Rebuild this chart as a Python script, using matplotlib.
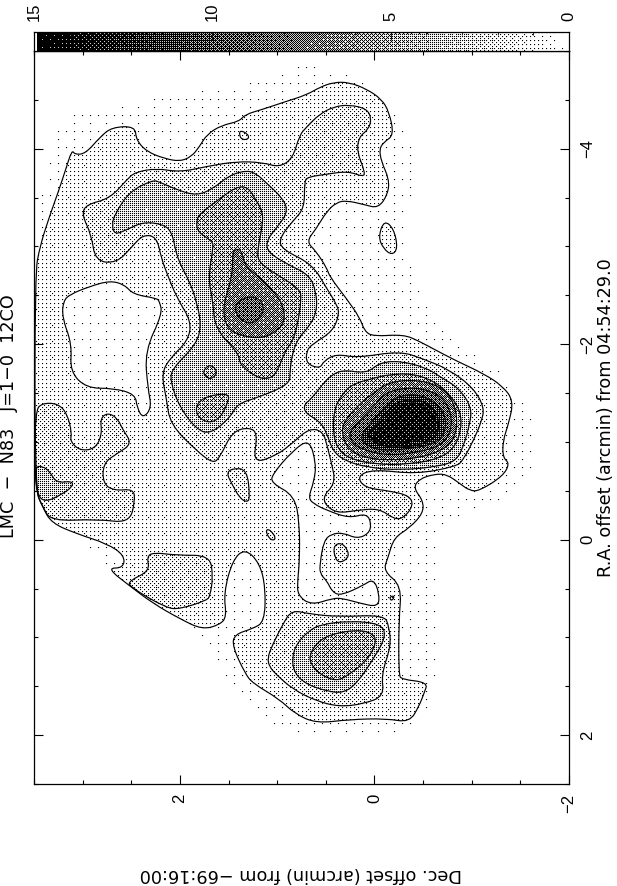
import numpy as np
import matplotlib
matplotlib.use("Agg")
import matplotlib.pyplot as plt
from matplotlib.path import Path
from matplotlib.patches import PathPatch

plt.rcParams["font.family"] = ["Liberation Sans", "DejaVu Sans"]

map_extent = [(3.49,-2.72),(3.34,-4.33),(2.82,-4.38),(1.95,-4.58),(1.08,-4.68),(.87,-4.87),(.15,-4.79),(-.26,-4.33),
              (-.41,-4.02),(-.41,-3.71),(-.31,-3.20),(-.41,-2.54),(-.77,-2.03),(-1.28,-1.78),(-1.69,-1.21),(-1.69,-.86),
              (-1.49,-.50),(-1.18,-.35),(-.62,-.14),(-.67,.52),(-.67,1.34),(-.62,1.54),(-.46,2.00),(.67,2.05),(1.03,1.95),
              (1.33,1.64),(1.59,1.34),(1.75,.98),(2.00,.81),(2.52,.47),(2.75,.29),(3.49,-.52)]

l1_main = [(3.49,-2.72),(3.44,-3.00),(3.34,-3.31),(3.25,-3.56),(3.18,-3.77),(3.11,-3.99),(3.08,-3.94),(2.97,-3.95),
           (2.82,-4.12),(2.70,-4.22),(2.46,-4.23),(2.45,-4.09),(2.34,-3.97),(2.16,-3.90),(2.00,-3.87),(1.88,-3.92),
           (1.80,-4.02),(1.72,-4.15),(1.57,-4.24),(1.39,-4.28),(1.33,-4.35),(1.16,-4.40),(.92,-4.48),(.70,-4.55),
           (.56,-4.63),(.42,-4.68),(.26,-4.68),(.08,-4.61),(-.07,-4.51),(-.15,-4.38),(-.20,-4.14),(-.10,-4.07),
           (-.05,-4.00),(-.07,-3.87),(-.15,-3.69),(-.14,-3.54),(-.04,-3.39),(.11,-3.43),(.29,-3.47),(.39,-3.45),
           (.49,-3.36),(.60,-3.18),(.70,-3.05),(.60,-2.95),(.49,-2.78),(.46,-2.69),(.29,-2.47),(.15,-2.27),(.10,-2.13),
           (.01,-2.08),(-.30,-2.10),(-.46,-2.03),(-.61,-1.95),(-.84,-1.83),(-1.12,-1.70),(-1.32,-1.57),(-1.43,-1.42),
           (-1.38,-1.19),(-1.32,-1.01),(-1.32,-.84),(-1.39,-.78),(-1.32,-.65),(-1.08,-.50),(-.98,-.50),(-.87,-.58),
           (-.74,-.67),(-.61,-.67),(-.46,-.62),(-.40,-.53),(-.50,-.40),(-.50,-.27),(-.36,-.12),(-.20,-.02),(-.14,.18),
           (-.09,.32),(-.28,.47),(-.25,.83),(-.25,1.38),(-.28,1.43),(-.55,1.46),(-.51,1.57),(-.46,1.70),(-.36,1.87),
           (-.12,1.83),(.26,1.84),(.60,1.88),(.82,1.78),(.98,1.63),(1.25,1.47),(1.33,1.37),(1.46,1.09),(1.44,.97),
           (1.25,.91),(1.13,.84),(1.12,.49),(1.18,.24),(1.33,.09),(1.46,.21),(1.55,.55),(1.52,.79),(1.59,.87),(1.77,.92),
           (2.00,.81),(2.28,.65),(2.52,.47),(2.75,.29),(2.58,.29),(2.57,.16),(2.75,.04),(3.06,-.06),(3.32,-.17),
           (3.41,-.33),(3.49,-.52)]
l1_hole_a = [(3.13,-2.51),(2.93,-2.59),(2.72,-2.65),(2.57,-2.61),(2.48,-2.51),(2.24,-2.47),(2.21,-2.44),(2.18,-2.31),
             (2.36,-1.93),(2.33,-1.55),(2.29,-1.35),(2.38,-1.24),(2.44,-1.35),(2.46,-1.49),(2.69,-1.55),(2.96,-1.55),
             (3.13,-1.72),(3.11,-2.00),(3.21,-2.27),(3.20,-2.44)]
l1_hole_b = [(.67,-1.03),(.60,-.78),(.62,-.60),(.68,-.43),(.63,-.37),(.49,-.30),(.26,-.22),(.08,-.27),(.03,-.16),
             (.06,-.06),(.18,-.01),(.32,-.07),(.44,-.06),(.52,.01),(.56,.24),(.56,.35),(.49,.42),(.43,.54),(.34,.57),
             (.12,.47),(.01,.40),(-.05,.55),(-.04,.69),(.15,.65),(.33,.60),(.43,.60),(.65,.67),(.79,.57),(.79,.42),
             (.77,.21),(.77,-.16),(.82,-.45),(1.06,-.58),(1.05,-.67),(.84,-.91)]
l1_spot_a = [(1.38,-4.19),(1.30,-4.15),(1.29,-4.10),(1.36,-4.09),(1.39,-4.14)]
l1_spot_b = [(-.10,-3.27),(-.20,-3.18),(-.24,-2.98),(-.18,-2.91),(-.09,-2.98),(-.04,-3.10)]

l2_main = [(3.01,-3.33),(2.96,-3.43),(2.72,-3.49),(2.54,-3.69),(2.46,-3.76),(2.24,-3.80),(2.00,-3.76),(1.72,-3.82),
           (1.42,-3.87),(1.15,-3.86),(.98,-3.81),(.84,-3.90),(.77,-4.14),(.70,-4.22),(.57,-4.35),(.42,-4.43),(.26,-4.45),
           (.08,-4.41),(.03,-4.31),(.06,-4.20),(.16,-4.12),(.18,-3.97),(.10,-3.77),(.11,-3.71),(.27,-3.77),(.49,-3.74),
           (.69,-3.71),(.72,-3.66),(.72,-3.39),(.84,-3.26),(.98,-3.08),(.95,-2.97),(.64,-2.82),(.49,-2.57),(.39,-2.41),
           (.36,-2.31),(.43,-2.13),(.64,-2.00),(.70,-1.93),(.70,-1.80),(.56,-1.75),(.52,-1.83),(.39,-1.90),(.18,-1.86),
           (-.26,-1.93),(-.50,-1.85),(-.77,-1.74),(-1.02,-1.55),(-1.13,-1.35),(-1.10,-1.21),(-1.03,-1.04),(-.91,-.81),
           (-.84,-.75),(-.43,-.67),(.01,-.72),(.18,-.65),(.10,-.53),(-.15,-.50),(-.36,-.45),(-.40,-.35),(-.30,-.22),
           (-.20,-.21),(-.05,-.32),(.18,-.30),(.39,-.27),(.52,-.37),(.51,-.47),(.44,-.53),(.41,-.63),(.43,-.73),(.48,-.94),
           (.53,-1.11),(.67,-1.14),(.84,-.99),(1.01,-.86),(1.25,-.78),(1.20,-1.08),(1.28,-1.15),(1.46,-1.11),(1.59,-.84),
           (1.66,-.78),(1.83,-.91),(2.10,-1.18),(2.14,-1.45),(2.19,-1.70),(2.10,-1.86),(1.92,-2.03),(1.88,-2.23),
           (2.03,-2.47),(2.14,-2.74),(2.19,-2.88),(2.24,-3.10),(2.38,-3.12),(2.49,-3.00),(2.65,-2.83),(2.87,-2.85),(2.91,-3.12)]
l2_west = [(3.49,-1.32),(3.41,-1.40),(3.25,-1.39),(3.16,-1.29),(3.11,-1.09),(3.13,-1.01),(3.03,-.91),(2.87,-.93),
           (2.80,-1.08),(2.82,-1.24),(2.74,-1.30),(2.64,-1.24),(2.59,-1.13),(2.49,-.98),(2.65,-.88),(2.79,-.78),(2.79,-.57),
           (2.67,-.50),(2.48,-.52),(2.46,-.40),(2.52,-.17),(2.85,-.21),(3.32,-.19),(3.41,-.33),(3.49,-.52)]
l2_southwest = [(2.34,.18),(2.28,.13),(2.03,.16),(1.69,.16),(1.66,.39),(1.69,.57),(1.72,.62),(2.00,.71),(2.14,.70),
                (2.52,.48),(2.52,.42),(2.31,.32)]
l2_spot_a = [(1.52,-.68),(1.46,-.73),(1.31,-.72),(1.28,-.43),(1.31,-.38),(1.39,-.43),(1.47,-.58)]
l2_spot_b = [(1.11,-.11),(1.06,-.09),(1.01,-.01),(1.06,.01),(1.11,-.06)]
l2_spot_c = [(.42,.06),(.34,.03),(.27,.11),(.27,.19),(.36,.24),(.41,.18)]
l2_spot_d = [(-.15,.59),(-.21,.57),(-.18,.63)]
l2_south = [(1.10,1.21),(1.05,1.08),(.94,.86),(.85,.72),(.67,.76),(.36,.79),(-.10,.77),(-.15,.89),(-.17,1.09),(-.07,1.38),
            (-.10,1.60),(.11,1.68),(.36,1.71),(.60,1.65),(.84,1.53),(1.01,1.38),(1.08,1.30)]

l3_north = [(2.70,-3.22),(2.67,-3.33),(2.52,-3.56),(2.28,-3.68),(2.21,-3.66),(2.03,-3.58),(1.83,-3.52),(1.66,-3.59),
            (1.49,-3.73),(1.31,-3.78),(1.21,-3.74),(1.11,-3.65),(.94,-3.49),(.89,-3.36),(.98,-3.22),(1.10,-3.08),(1.11,-2.95),
            (.90,-2.82),(.67,-2.71),(.60,-2.54),(.59,-2.34),(.67,-2.18),(.77,-2.08),(.84,-1.93),(.87,-1.72),(.87,-1.59),
            (1.21,-1.45),(1.41,-1.39),(1.49,-1.24),(1.69,-1.08),(1.83,-1.13),(2.00,-1.35),(2.10,-1.62),(2.08,-1.75),
            (1.83,-2.00),(1.78,-2.20),(1.83,-2.44),(1.90,-2.64),(2.03,-2.88),(2.08,-3.15),(2.18,-3.23),(2.38,-3.25),
            (2.55,-3.17),(2.67,-3.12)]
l3_west = [(3.49,-.75),(3.41,-.75),(3.34,-.70),(3.27,-.58),(3.11,-.60),(3.10,-.55),(3.20,-.47),(3.39,-.38),(3.47,-.47)]
l3_core = [(.72,-1.39),(.67,-1.42),(.53,-1.59),(.46,-1.67),(.33,-1.74),(.08,-1.70),(-.05,-1.81),(-.26,-1.83),(-.53,-1.76),
           (-.67,-1.67),(-.87,-1.55),(-1.00,-1.35),(-.98,-1.18),(-.91,-.94),(-.84,-.81),(-.67,-.75),(-.26,-.71),(.08,-.74),
           (.31,-.81),(.43,-.91),(.49,-1.09),(.56,-1.21),(.72,-1.30)]
l3_south = [(.85,1.22),(.80,1.06),(.67,.93),(.56,.87),(.26,.83),(-.07,.86),(-.12,.99),(.01,1.22),(.18,1.47),(.32,1.57),
            (.49,1.55),(.70,1.48),(.82,1.37)]

l4_north = [(1.83,-3.26),(1.80,-3.33),(1.59,-3.49),(1.42,-3.61),(1.30,-3.61),(1.21,-3.46),(1.15,-3.36),(1.15,-3.22),
            (1.20,-2.98),(1.20,-2.85),(1.05,-2.74),(.77,-2.57),(.75,-2.47),(.79,-2.20),(.84,-2.03),(.92,-1.93),(1.01,-1.69),
            (1.11,-1.64),(1.23,-1.67),(1.39,-1.80),(1.39,-1.90),(1.64,-2.16),(1.66,-2.44),(1.71,-2.67),(1.66,-2.98),
            (1.66,-3.05),(1.82,-3.15)]
l4_spot_a = [(1.77,-1.72),(1.69,-1.80),(1.61,-1.72),(1.66,-1.65),(1.72,-1.65)]
l4_spot_b = [(1.83,-1.39),(1.72,-1.47),(1.49,-1.50),(1.51,-1.39),(1.59,-1.24),(1.71,-1.19),(1.83,-1.27)]
l4_south = [(.67,1.19),(.60,1.06),(.46,.97),(.18,.92),(.01,.96),(-.02,1.06),(.08,1.24),(.26,1.38),(.39,1.45),(.56,1.38),(.65,1.28)]
l4_core = [(.41,-1.35),(.33,-1.49),(.23,-1.59),(.02,-1.65),(-.15,-1.69),(-.39,-1.70),(-.62,-1.62),(-.79,-1.47),(-.89,-1.30),
           (-.89,-1.11),(-.82,-.94),(-.67,-.83),(-.36,-.77),(0,-.77),(.26,-.83),(.38,-.93),(.43,-1.11)]

l5_north = [(1.46,-2.90),(1.44,-2.97),(1.37,-2.97),(1.33,-2.80),(1.21,-2.71),(1.06,-2.57),(.94,-2.41),(.92,-2.23),(1.01,-2.13),
            (1.15,-2.06),(1.36,-2.08),(1.52,-2.16),(1.56,-2.37),(1.49,-2.61),(1.46,-2.74)]
l5_core = [(.34,-1.13),(.29,-1.24),(.12,-1.42),(.02,-1.49),(-.12,-1.60),(-.36,-1.64),(-.60,-1.60),(-.77,-1.49),(-.85,-1.29),
           (-.84,-1.08),(-.75,-.94),(-.49,-.84),(-.15,-.81),(.12,-.84),(.29,-.94)]

l6_north = [(1.44,-2.41),(1.31,-2.49),(1.18,-2.47),(1.13,-2.36),(1.18,-2.27),(1.28,-2.20),(1.41,-2.27)]
l6_core = [(.26,-1.09),(.18,-1.19),(.02,-1.35),(-.10,-1.49),(-.26,-1.55),(-.49,-1.55),(-.69,-1.47),(-.79,-1.30),(-.79,-1.11),
           (-.69,-.96),(-.43,-.89),(-.12,-.86),(.15,-.93),(.24,-1.01)]
l7_core = [(.15,-1.04),(.07,-1.16),(-.10,-1.35),(-.23,-1.47),(-.46,-1.49),(-.65,-1.39),(-.74,-1.24),(-.72,-1.08),(-.62,-.98),
           (-.36,-.93),(-.08,-.91),(.08,-.96)]
l8_core = [(.10,-1.06),(-.03,-1.19),(-.15,-1.34),(-.26,-1.42),(-.46,-1.44),(-.62,-1.34),(-.67,-1.19),(-.64,-1.06),(-.51,-.98),
           (-.29,-.94),(-.05,-.96)]
l9_core = [(.02,-1.06),(-.10,-1.19),(-.21,-1.32),(-.33,-1.40),(-.46,-1.40),(-.59,-1.30),(-.64,-1.19),(-.59,-1.08),(-.43,-1.01),
           (-.23,-.98),(-.03,-.99)]

# one entry per contour level: intensity of the band, filled loops, holes
band_values = [1.0, 2.0, 3.7, 5.0, 7.0, 8.5, 11.0, 12.5, 13.5]
level_loops = [[l1_main, l1_spot_a, l1_spot_b],
               [l2_main, l2_west, l2_southwest, l2_spot_a, l2_spot_b, l2_spot_c, l2_spot_d, l2_south],
               [l3_north, l3_west, l3_core, l3_south],
               [l4_north, l4_spot_a, l4_spot_b, l4_south, l4_core],
               [l5_north, l5_core],
               [l6_north, l6_core],
               [l7_core], [l8_core], [l9_core]]
level_holes = [[l1_hole_a, l1_hole_b], [], [], [], [], [], [], [], []]
outside_value = 0.17

# axis labels
dec_ticks = [2, 0, -2]
dec_labels = ["2", "0", "\u22122"]
ra_ticks = [2, 0, -2, -4]
ra_labels = ["2", "0", "\u22122", "\u22124"]
wedge_ticks = [15, 10, 5, 0]
wedge_labels = ["15", "10", "5", "0"]

W, H = 617, 886
L, R = 34, 569
T_map, B_map = 51, 784
T_wedge = 32
FONT = 12
LABEL_FONT = {"family": "DejaVu Sans", "fontsize": 12.7}

bayer8 = np.array([[0, 32, 8, 40, 2, 34, 10, 42],
                   [48, 16, 56, 24, 50, 18, 58, 26],
                   [12, 44, 4, 36, 14, 46, 6, 38],
                   [60, 28, 52, 20, 62, 30, 54, 22],
                   [3, 35, 11, 43, 1, 33, 9, 41],
                   [51, 19, 59, 27, 49, 17, 57, 25],
                   [15, 47, 7, 39, 13, 45, 5, 37],
                   [63, 31, 55, 23, 61, 29, 53, 21]])
bayer = np.block([[4 * bayer8, 4 * bayer8 + 2], [4 * bayer8 + 3, 4 * bayer8 + 1]])


def dither(values):
    # ordered halftone, like the grey scale of the plot device: 0 -> no ink, 15 -> solid
    ny, nx = values.shape
    thresh = (bayer[np.ix_(np.arange(ny) % 16, np.arange(nx) % 16)] + 0.5) / 256
    ink = (values / 15 > thresh).astype(float)
    # dots spread a little on the device
    return np.clip(ink + 0.1 * (np.roll(ink, 1, axis=0) + np.roll(ink, 1, axis=1)), 0, 1)


def smooth_path(loop):
    # closed loop with the traced points as quadratic control points
    p = np.array(loop)
    mid = (p + np.roll(p, -1, axis=0)) / 2
    verts = [mid[-1]]
    codes = [Path.MOVETO]
    for ctrl, end in zip(p, mid):
        verts += [ctrl, end]
        codes += [Path.CURVE3, Path.CURVE3]
    return Path(np.array(verts), codes)


def inside(loop, pts, shape):
    return smooth_path(loop).contains_points(pts).reshape(shape)


fig = plt.figure(figsize=(W / 100, H / 100), dpi=100)
ax = fig.add_axes([L / W, 1 - B_map / H, (R - L) / W, (B_map - T_map) / H])
cax = fig.add_axes([L / W, 1 - T_map / H, (R - L) / W, (T_map - T_wedge) / H])

# map: Dec runs left to right, R.A. runs up the page
dec_lim = (3.5, -2.0)
ra_lim = (2.5, -5.0)
nx, ny = R - L, B_map - T_map
dec = np.linspace(dec_lim[0], dec_lim[1], nx, endpoint=False) + (dec_lim[1] - dec_lim[0]) / nx / 2
ra = np.linspace(ra_lim[1], ra_lim[0], ny, endpoint=False) + (ra_lim[0] - ra_lim[1]) / ny / 2
dd, rr = np.meshgrid(dec, ra)
pts = np.column_stack([dd.ravel(), rr.ravel()])

field = np.zeros(dd.shape)
field[inside(map_extent, pts, dd.shape)] = outside_value
for value, loops, holes in zip(band_values, level_loops, level_holes):
    mask = np.zeros(dd.shape, dtype=bool)
    for loop in loops:
        mask |= inside(loop, pts, dd.shape)
    for loop in holes:
        mask &= ~inside(loop, pts, dd.shape)
    field[mask] = value

ax.imshow(dither(field), cmap="gray_r", vmin=0, vmax=1, interpolation="nearest", aspect="auto",
          extent=(dec_lim[0], dec_lim[1], ra_lim[0], ra_lim[1]), origin="upper")

for loops, holes in zip(level_loops, level_holes):
    for loop in loops + holes:
        ax.add_patch(PathPatch(smooth_path(loop), fc="none", ec="black", lw=0.85))

ax.set_xlim(dec_lim)
ax.set_ylim(ra_lim)
ax.set_xticks(dec_ticks, dec_labels, rotation=90, fontsize=FONT)
ax.set_yticks(ra_ticks, ra_labels, rotation=90, va="center", fontsize=FONT)
ax.set_xticks(np.arange(-2, 3.6, 0.5), minor=True)
ax.set_yticks(np.arange(-5, 2.6, 0.5), minor=True)
ax.yaxis.tick_right()
ax.tick_params(which="both", direction="in", top=True, bottom=True, left=True, right=True, width=0.8)
ax.tick_params(which="major", length=6.5)
ax.tick_params(which="minor", length=3.2)
ax.tick_params(axis="x", which="major", pad=7)
ax.tick_params(axis="y", which="major", pad=8)

# wedge
ramp = np.linspace(15, 0, nx)[None, :].repeat(T_map - T_wedge, axis=0)
ramp[:, :3] = 0
cax.imshow(dither(ramp), cmap="gray_r", vmin=0, vmax=1, interpolation="nearest", aspect="auto",
           extent=(15, 0, 0, 1))
cax.set_xlim(15, 0)
cax.set_yticks([])
cax.xaxis.tick_top()
cax.set_xticks(wedge_ticks, wedge_labels, rotation=90, fontsize=FONT)
cax.set_xticks(np.arange(0, 16), minor=True)
cax.tick_params(which="both", direction="in", width=0.6)
cax.tick_params(which="major", length=5.5, pad=8)
cax.tick_params(which="minor", length=2)

for spine in list(ax.spines.values()) + list(cax.spines.values()):
    spine.set_linewidth(0.9)

fig.text(18.5 / W, 1 - 416 / H, "LMC  \u2212  N83   J=1\u22120  12CO", rotation=90,
         ha="right", va="center", **LABEL_FONT)
fig.text(615 / W, 1 - 418 / H, "R.A. offset (arcmin) from 04:54:29.0", rotation=90,
         ha="right", va="center", **LABEL_FONT)
fig.text(301 / W, 1 - 874 / H, "Dec. offset (arcmin) from \u221269:16:00", rotation=180,
         ha="center", va="center", **LABEL_FONT)

fig.savefig("out.png", dpi=100)
